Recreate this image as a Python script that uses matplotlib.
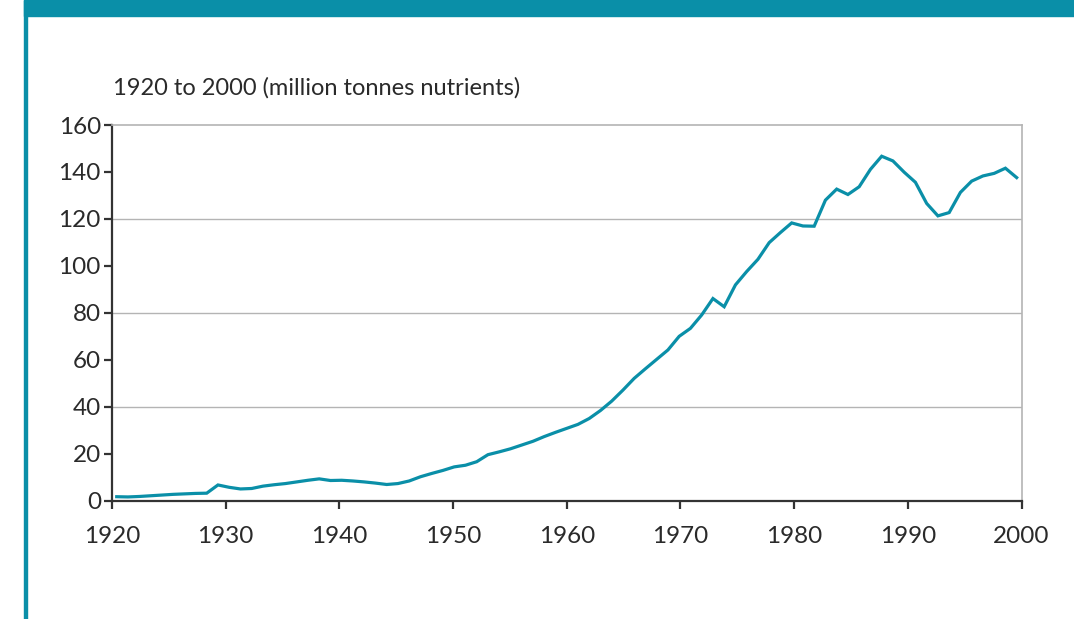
import matplotlib
matplotlib.use("Agg")
import matplotlib.pyplot as plt
import numpy as np

plt.rcParams['font.family'] = ['Lato', 'DejaVu Sans']

years = list(range(1920, 2001))
values = [1.7, 1.6, 1.8, 2.1, 2.4, 2.7, 2.9, 3.1, 3.2, 6.7,
          5.7, 5.0, 5.2, 6.2, 6.8, 7.3, 8.0, 8.7, 9.3, 8.6,
          8.7, 8.4, 8.0, 7.5, 6.9, 7.3, 8.4, 10.2, 11.6, 12.9,
          14.4, 15.1, 16.6, 19.6, 20.8, 22.1, 23.7, 25.3, 27.3, 29.1,
          30.8, 32.5, 35.0, 38.4, 42.4, 47.1, 52.1, 56.2, 60.2, 64.2,
          70.0, 73.4, 79.1, 86.1, 82.6, 91.9, 97.6, 102.8, 109.9, 114.2,
          118.3, 117.0, 116.9, 128.0, 132.7, 130.4, 133.7, 141.1, 146.7, 144.7,
          139.9, 135.6, 126.6, 121.3, 122.7, 131.3, 136.1, 138.3, 139.4, 141.6,
          137.6]
xticks = [1920, 1930, 1940, 1950, 1960, 1970, 1980, 1990, 2000]
yticks = [0, 20, 40, 60, 80, 100, 120, 140, 160]
title = "1920 to 2000 (million tonnes nutrients)"

teal = '#0a8fa8'
dark = '#333333'
light = '#b4b4b4'

fig = plt.figure(figsize=(10.74, 6.19), dpi=100)

# frame decorations: top band and left rule
fig.patches.append(plt.Rectangle((24/1074, 1 - 16/619), 1, 16/619,
                                 transform=fig.transFigure, color=teal, zorder=0))
fig.patches.append(plt.Rectangle((24/1074, 0), 3/1074, 1,
                                 transform=fig.transFigure, color=teal, zorder=0))

ax = fig.add_axes([112/1074, 118.3/619, 909.5/1074, 375.7/619])
ax.set_xlim(1920, 2000)
ax.set_ylim(0, 160)
ax.set_xticks(xticks)
ax.set_yticks(yticks)
ax.set_xticklabels([str(v) for v in xticks])
ax.set_yticklabels([str(v) for v in yticks])
for y in yticks[2::2][:-1]:
    ax.axhline(y, color=light, lw=1.0, zorder=1)

for s in ['left', 'bottom']:
    ax.spines[s].set_color(dark)
    ax.spines[s].set_linewidth(1.6)
for s in ['top', 'right']:
    ax.spines[s].set_color(light)
    ax.spines[s].set_linewidth(1.2)

ax.tick_params(axis='both', colors=dark, labelcolor='#2a2a2a', labelsize=17.5,
               length=6, width=1.6, direction='out')
ax.tick_params(axis='x', pad=12)
ax.tick_params(axis='y', pad=2)

# line drawn "between tick marks" style, slightly inset from the axis ends
ax2 = ax.twiny()
ax2.set_xlim(1919.58, 2000.43)
ax2.axis('off')
ax2.set_ylim(0, 160)
ax2.plot(years, values, color=teal, lw=2.3, solid_joinstyle='miter', zorder=3)

fig.text(113/1074, 1 - 95/619, title, fontsize=17, color='#2a2a2a',
         ha='left', va='baseline')

fig.savefig('out.png', dpi=100)
